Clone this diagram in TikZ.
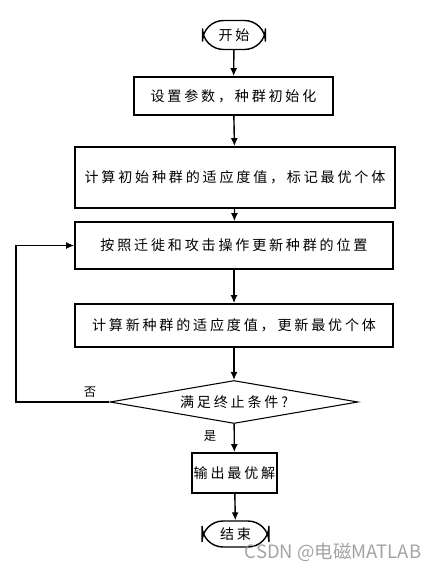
\documentclass[tikz,border=0pt]{standalone}
\usepackage{fontspec}
\newfontfamily\cjk[LetterSpace=20]{Noto Sans CJK SC}
\newfontfamily\cjkplain{Noto Sans CJK SC}
\usepackage{tikz}
\usetikzlibrary{positioning}
\usetikzlibrary{arrows.meta,shapes.geometric}
\usetikzlibrary{calc}
\tikzstyle{stepbox}=[rectangle,draw,line width=1pt,inner sep=0pt,font=\cjk\fontsize{8pt}{9pt}\selectfont]
\tikzstyle{terminal}=[rectangle,rounded corners=12pt,draw,line width=0.8pt,inner sep=0pt,font=\cjk\fontsize{8pt}{9pt}\selectfont]
\tikzstyle{decision}=[diamond,draw,line width=0.6pt,inner sep=0pt,aspect=5.77,font=\cjk\fontsize{8pt}{9pt}\selectfont]
\tikzstyle{edge} = [draw,line width=0.8pt,-{Latex[length=1.6mm,width=1.4mm]}]
\tikzstyle{weight} = [font=\cjkplain\fontsize{7pt}{8pt}\selectfont]
\begin{document}
\begin{tikzpicture}[x=0.02cm, y=-0.02cm]

 \useasboundingbox (0,0) rectangle (430,568);

 %terminals
 \node[terminal, minimum width=63*0.02cm, minimum height=29*0.02cm] (start) at (234,35) {开始};
 \node[terminal, minimum width=67*0.02cm, minimum height=26*0.02cm] (stop) at (235.5,534) {结束};

 %steps
 \foreach \x/\y/\w/\h/\name/\label in {233.5/96/199/38/init/{设置参数，种群初始化},
          235/177.5/320/61/fitzero/{计算初始种群的适应度值，标记最优个体},
          234/245.5/318/47/move/{按照迁徙和攻击操作更新种群的位置},
          234/325.5/318/43/fit/{计算新种群的适应度值，更新最优个体},
          234.5/473/85/40/out/{输出最优解}}
        \node[stepbox, minimum width=\w*0.02cm, minimum height=\h*0.02cm] (\name) at (\x,\y) {\label};

 %test
 \node[decision, minimum width=248*0.02cm, minimum height=43*0.02cm] (cond) at (234,402) {满足终止条件?};

 \foreach \source/ \dest in {start/init, init/fitzero, fitzero/move, move/fit, fit/cond, cond/out, out/stop}
        \path[edge] (\source) -- (\dest);

 %loop back
 \coordinate (back) at (16,402);
 \path[edge] (cond.west) -- (back) |- (move.west);

 \node[weight] (no) at (90,392) {否};
 \node[weight] (yes) at (210,436) {是};

 \node[font=\cjkplain\fontsize{10.5pt}{12pt}\selectfont, text=black!45, opacity=0.8] (mark) at (333,552) {CSDN @电磁MATLAB};

\end{tikzpicture}
\end{document}
